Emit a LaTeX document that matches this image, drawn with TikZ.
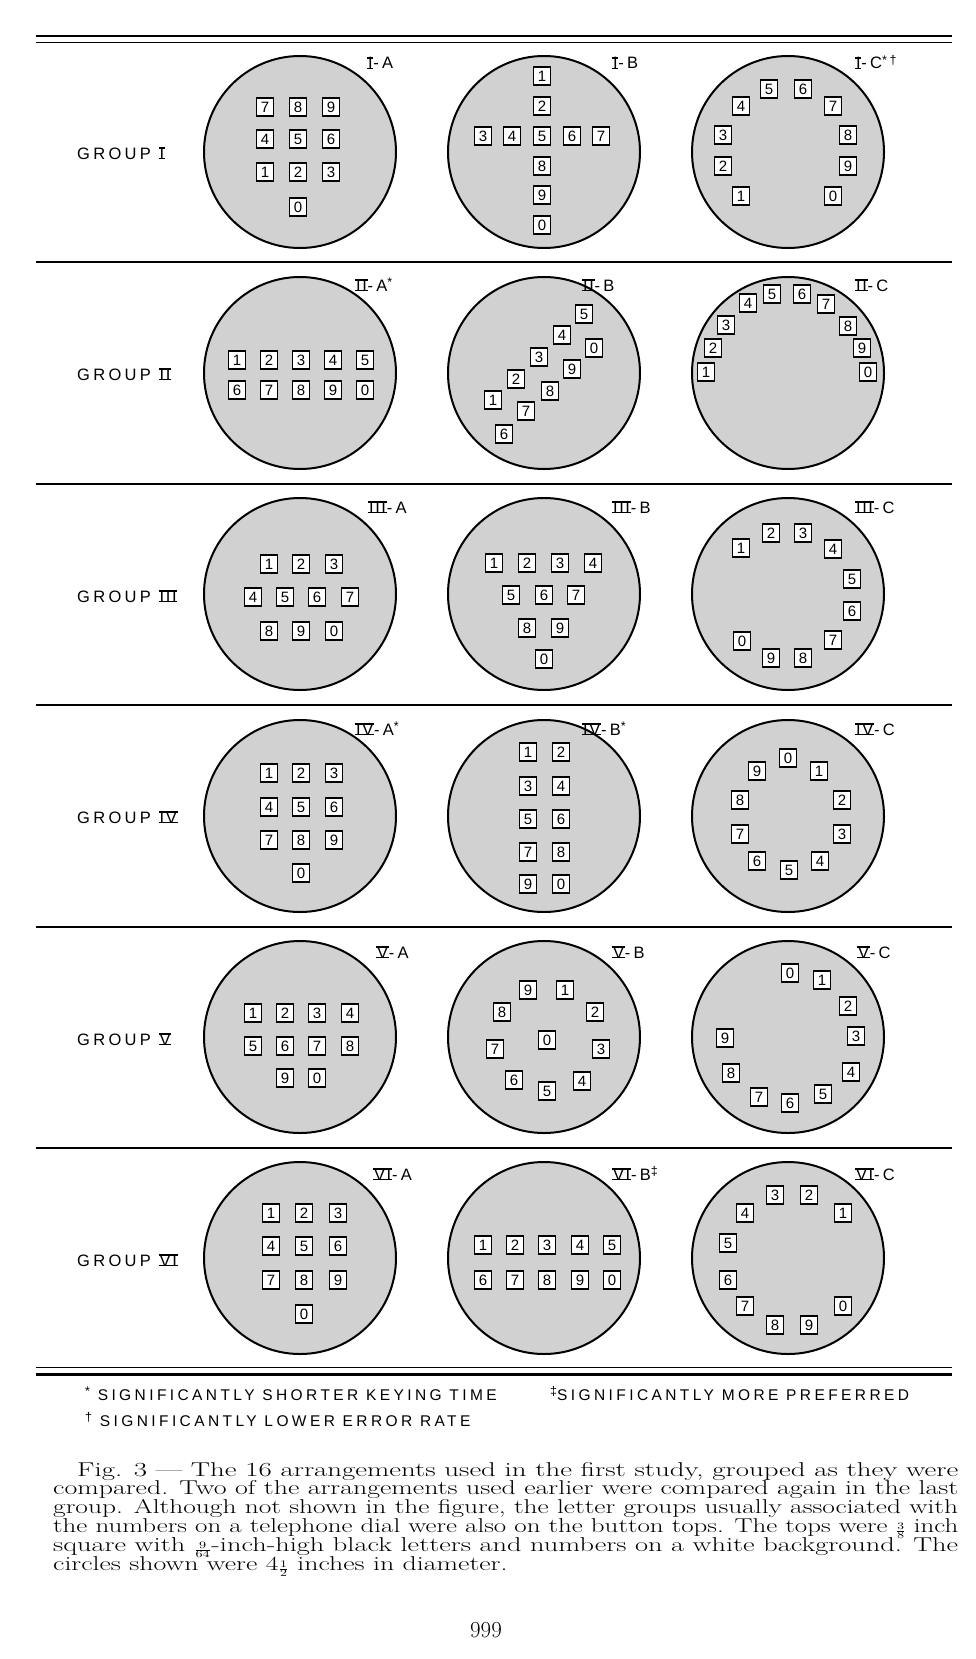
\documentclass[tikz,border=0pt]{standalone}
\usepackage{fontspec}
\usepackage{graphicx}
\newfontfamily\letfont{Liberation Sans}[LetterSpace=20]
\newfontfamily\notefont{Liberation Sans}[LetterSpace=22]
\newfontfamily\keyfont{Liberation Sans}
\newdimen\capw
\newbox\capboxA
\newbox\capboxB
% Roman numeral with bars on top and bottom
\newcommand\RN[1]{\leavevmode\setbox0=\hbox{\addfontfeature{LetterSpace=10}#1}\hbox{\rlap{\rule[-0.02em]{\dimexpr\wd0+0.1em\relax}{0.1em}}\rlap{\rule[\dimexpr\ht0-0.08em\relax]{\dimexpr\wd0+0.1em\relax}{0.1em}}\kern0.05em\box0\kern0.05em}}
\newcommand\sups[1]{\raisebox{0.28em}{\fontsize{12.5pt}{12.5pt}\selectfont #1}}
\newcommand\smfrac[2]{\raisebox{-1.5pt}{${\scriptscriptstyle\frac{#1}{#2}}$}}
\newcommand\keyset[2]{\foreach \kx/\ky/\kd in {#2}{\node[key] (#1-\kd) at (\kx,\ky) {\kd};}}
\newcommand\jline[2]{\resizebox{#1}{\height}{#2}}
\newcommand\capA{compared. Two of the arrangements used earlier were compared again in the last}
\newcommand\capB{circles shown were 4\smfrac{1}{2} inches in diameter.}
\tikzset{
  disc/.style={circle, draw=black, line width=2pt, fill=black!18, minimum size=192pt, inner sep=0pt},
  key/.style={draw=black, line width=1.5pt, fill=white, minimum width=17pt, minimum height=18pt, inner sep=0pt, font=\keyfont\fontsize{15pt}{15pt}\selectfont},
  lab/.style={anchor=base west, inner sep=0pt, font=\letfont\fontsize{16.5pt}{16.5pt}\selectfont},
  grp/.style={anchor=base west, inner sep=0pt, font=\letfont\fontsize{16.5pt}{16.5pt}\selectfont},
  fnote/.style={anchor=base west, inner sep=0pt, font=\notefont\fontsize{15.5pt}{15.5pt}\selectfont},
  capl/.style={anchor=base west, inner sep=0pt, font=\fontsize{20pt}{20pt}\selectfont\addfontfeatures{FakeBold=0.4}},
  thickrule/.style={line width=2.4pt},
  thinrule/.style={line width=1.4pt},
  seprule/.style={line width=1.5pt}
}
\begin{document}
\begin{tikzpicture}[x=1pt,y=-1pt]
\useasboundingbox (0,0) rectangle (976,1659);
\fill[white] (0,0) rectangle (976,1659);
% rules
\draw[thickrule] (36,36) -- (952,36);
\draw[thinrule] (36,42.5) -- (952,42.5);
\foreach \yy in {262,484,705,927,1148} \draw[seprule] (36,\yy) -- (952,\yy);
\draw[thinrule] (36,1367.5) -- (952,1367.5);
\draw[thickrule] (36,1374.5) -- (952,1374.5);
% discs
\foreach \r/\cy in {I/152,II/373,III/594,IV/816,V/1037,VI/1258}{
  \node[disc] (d\r A) at (300,\cy) {};
  \node[disc] (d\r B) at (544,\cy) {};
  \node[disc] (d\r C) at (788,\cy) {};
}
% group labels
\node[grp] (g1) at (77,159) {GROUP \RN{I}};
\node[grp] (g2) at (77,380) {GROUP \RN{II}};
\node[grp] (g3) at (77,602) {GROUP \RN{III}};
\node[grp] (g4) at (77,823) {GROUP \RN{IV}};
\node[grp] (g5) at (77,1045) {GROUP \RN{V}};
\node[grp] (g6) at (77,1266) {GROUP \RN{VI}};
% arrangement labels
\node[lab] (lIA) at (367,69) {\RN{I}-A};
\node[lab] (lIB) at (612,69) {\RN{I}-B};
\node[lab] (lIC) at (855,69) {\RN{I}-C\sups{*†}};
\node[lab] (lIIA) at (355,291) {\RN{II}-A\sups{*}};
\node[lab] (lIIB) at (582,291) {\RN{II}-B};
\node[lab] (lIIC) at (855,291) {\RN{II}-C};
\node[lab] (lIIIA) at (368,513) {\RN{III}-A};
\node[lab] (lIIIB) at (612,513) {\RN{III}-B};
\node[lab] (lIIIC) at (855,513) {\RN{III}-C};
\node[lab] (lIVA) at (355,735) {\RN{IV}-A\sups{*}};
\node[lab] (lIVB) at (582,735) {\RN{IV}-B\sups{*}};
\node[lab] (lIVC) at (855,735) {\RN{IV}-C};
\node[lab] (lVA) at (376,958) {\RN{V}-A};
\node[lab] (lVB) at (612,958) {\RN{V}-B};
\node[lab] (lVC) at (857,958) {\RN{V}-C};
\node[lab] (lVIA) at (373,1180) {\RN{VI}-A};
\node[lab] (lVIB) at (612,1180) {\RN{VI}-B\sups{‡}};
\node[lab] (lVIC) at (855,1180) {\RN{VI}-C};
% keys
\keyset{IA}{265/107/7,298/107/8,331/107/9,265/139/4,298/139/5,331/139/6,265/172/1,298/172/2,331/172/3,298/207/0}
\keyset{IB}{542/76/1,542/106/2,483/136/3,512/136/4,542/136/5,572/136/6,601/136/7,542/166/8,542/195/9,542/225/0}
\keyset{IC}{769/89/5,803/89/6,741/106/4,833/106/7,723/135/3,848/135/8,723/166/2,848/166/9,741/196/1,833/196/0}
\keyset{IIA}{237/360/1,269/360/2,301/360/3,333/360/4,365/360/5,237/390/6,269/390/7,301/390/8,333/390/9,365/390/0}
\keyset{IIB}{584/314/5,562/335/4,594/348/0,539/357/3,572/369/9,516/379/2,550/391/8,493/400/1,526/411/7,504/434/6}
\keyset{IIC}{772/294/5,802/294/6,748/303/4,826/304/7,726/325/3,848/326/8,713/348/2,862/348/9,706/372/1,868/372/0}
\keyset{IIIA}{269/564/1,301/564/2,334/564/3,253/597/4,285/597/5,317/597/6,350/597/7,269/631/8,301/631/9,334/631/0}
\keyset{IIIB}{494/563/1,527/563/2,560/563/3,593/563/4,511/595/5,544/595/6,576/595/7,527/628/8,560/628/9,544/659/0}
\keyset{IIIC}{771/533/2,803/533/3,741/548/1,833/549/4,852/579/5,852/611/6,833/640/7,742/641/0,771/658/9,803/658/8}
\keyset{IVA}{269/773/1,301/773/2,334/773/3,269/807/4,301/807/5,334/807/6,269/840/7,301/840/8,334/840/9,301/873/0}
\keyset{IVB}{528/752/1,561/752/2,528/786/3,561/786/4,528/819/5,561/819/6,528/852/7,561/852/8,528/884/9,561/884/0}
\keyset{IVC}{788/758/0,757/771/9,819/771/1,740/800/8,842/800/2,740/834/7,842/834/3,757/861/6,820/861/4,789/870/5}
\keyset{VA}{253/1013/1,285/1013/2,317/1013/3,350/1013/4,253/1046/5,285/1046/6,317/1046/7,350/1046/8,285/1078/9,317/1078/0}
\keyset{VB}{528/990/9,565/990/1,502/1012/8,595/1012/2,547/1040/0,495/1049/7,601/1049/3,514/1080/6,582/1081/4,547/1091/5}
\keyset{VC}{790/973/0,822/980/1,848/1006/2,856/1036/3,851/1072/4,725/1038/9,731/1073/8,759/1097/7,790/1103/6,823/1094/5}
\keyset{VIA}{271/1213/1,304/1213/2,338/1213/3,271/1246/4,304/1246/5,338/1246/6,271/1280/7,304/1280/8,338/1280/9,304/1314/0}
\keyset{VIB}{483/1245/1,515/1245/2,547/1245/3,580/1245/4,612/1245/5,483/1280/6,515/1280/7,547/1280/8,580/1280/9,612/1280/0}
\keyset{VIC}{775/1195/3,809/1195/2,745/1213/4,843/1213/1,728/1243/5,728/1280/6,745/1306/7,775/1325/8,809/1325/9,843/1306/0}
% footnotes
\node[fnote] (f1) at (85,1400) {\sups{*} SIGNIFICANTLY SHORTER KEYING TIME};
\node[fnote] (f2) at (85,1426) {\sups{†} SIGNIFICANTLY LOWER ERROR RATE};
\node[fnote] (f3) at (550,1400) {\sups{‡}SIGNIFICANTLY MORE PREFERRED};
% caption
\node[capl] (c1) at (77,1476) {\jline{881pt}{Fig. 3 --- The 16 arrangements used in the first study, grouped as they were}};
\node[capl] (c2) at (53,1494.8) {\jline{905pt}{\capA}};
\node[capl] (c3) at (53,1513.6) {\jline{905pt}{group. Although not shown in the figure, the letter groups usually associated with}};
\node[capl] (c4) at (53,1532.4) {\jline{905pt}{the numbers on a telephone dial were also on the button tops. The tops were \smfrac{3}{8} inch}};
\node[capl] (c5) at (53,1551.2) {\jline{905pt}{square with \smfrac{9}{64}-inch-high black letters and numbers on a white background. The}};
\node[capl] (c6) at (53,1570) {\setbox\capboxA=\hbox{\capA}\setbox\capboxB=\hbox{\capB}\global\capw=\dimexpr\wd\capboxB*59310080/\wd\capboxA\relax\resizebox{\capw}{\height}{\capB}};
\node[anchor=base, inner sep=0pt, font=\fontsize{23pt}{23pt}\selectfont\addfontfeatures{FakeBold=0.4}] (pg) at (486,1637) {999};
\end{tikzpicture}
\end{document}
